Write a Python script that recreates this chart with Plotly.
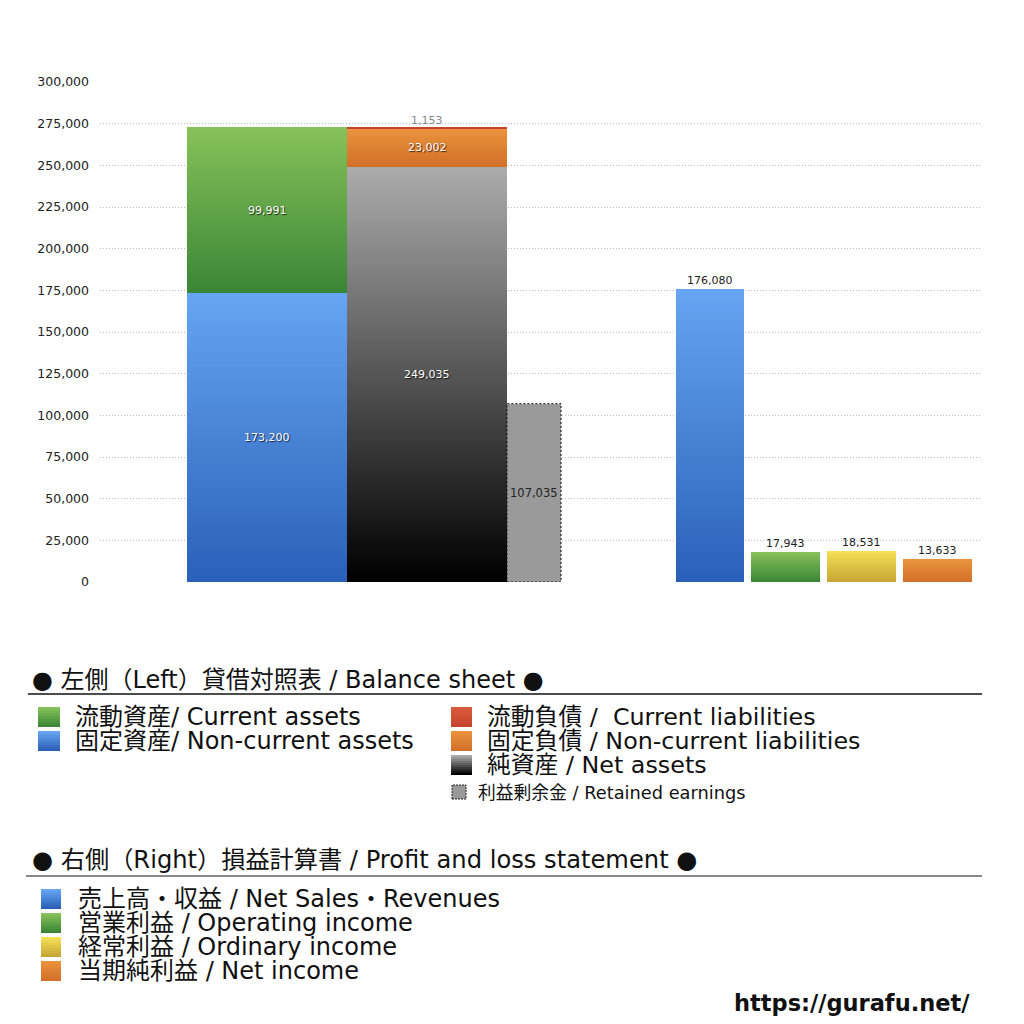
import plotly.graph_objects as go

# 左側: 貸借対照表 / Balance sheet
asset_labels = ["固定資産", "流動資産"]
asset_values = [173200, 99991]
liab_labels = ["純資産", "固定負債", "流動負債"]
liab_values = [249035, 23002, 1153]
retained_label = "利益剰余金"
retained_value = 107035

# 右側: 損益計算書 / Profit and loss statement
pl_labels = ["売上高・収益", "営業利益", "経常利益", "当期純利益"]
pl_values = [176080, 17943, 18531, 13633]

y_ticks = list(range(0, 300001, 25000))

FONT = "DejaVu Sans, Noto Sans CJK JP"

# x軸は描画幅を 0-88 の単位で扱う
ASSET_X, LIAB_X, BS_W = 16.7, 32.7, 16.0
RE_X, RE_W = 43.4, 5.4
PL_X = [61.0, 68.55, 76.15, 83.75]
PL_W = 6.85

# (下側の色, 上側の色)
BLUE = ("#2b60b8", "#65a5f2")
GREEN = ("#3a8636", "#87c15a")
BLACK = ("#000000", "#ababab")
ORANGE = ("#d2702a", "#ea933c")
RED = ("#c6452c", "#d85a3c")
YELLOW = ("#c6a534", "#f5e056")
GRAY = "#9a9a9a"


def mix(c0, c1, t):
    a = [int(c0[i:i + 2], 16) for i in (1, 3, 5)]
    b = [int(c1[i:i + 2], 16) for i in (1, 3, 5)]
    return "rgb(%d,%d,%d)" % tuple(round(a[k] + (b[k] - a[k]) * t) for k in range(3))


def gradient_bar(fig, x, width, base, value, colors, n=90):
    # 下から順に重ねてグラデーションに見せる
    xs, ys, bases, cols = [], [], [], []
    for i in range(n):
        xs.append(x)
        bases.append(base + value * i / n)
        ys.append(value * (n - i) / n)
        cols.append(mix(colors[0], colors[1], i / max(n - 1, 1)))
    fig.add_trace(go.Bar(x=xs, y=ys, base=bases, width=width,
                         marker=dict(color=cols, line=dict(width=0)),
                         hoverinfo="skip", showlegend=False))


def px_x(p):
    return (p - 100) / 880


def px_y(p):
    return (582 - p) / 500


fig = go.Figure()
annotations = []
shapes = []


def value_label(x, y, v, color="#ffffff", size=11, yanchor="middle", shadow="none"):
    annotations.append(dict(x=x, y=y, xref="x", yref="y", text=f"{v:,}",
                            showarrow=False, yanchor=yanchor,
                            font=dict(family=FONT, size=size, color=color, shadow=shadow)))


WHITE_SHADOW = "1px 1px 1px rgba(0,0,0,0.7)"

# 資産
base = 0
for v, c in zip(asset_values, [BLUE, GREEN]):
    gradient_bar(fig, ASSET_X, BS_W, base, v, c)
    value_label(ASSET_X, base + v / 2, v, shadow=WHITE_SHADOW)
    base += v

# 負債・純資産
base = 0
for v, c in zip(liab_values, [BLACK, ORANGE, RED]):
    gradient_bar(fig, LIAB_X, BS_W, base, v, c, n=90 if v > 5000 else 1)
    base += v
value_label(LIAB_X, liab_values[0] / 2, liab_values[0], shadow=WHITE_SHADOW)
value_label(LIAB_X, liab_values[0] + liab_values[1] / 2, liab_values[1], shadow=WHITE_SHADOW)
value_label(LIAB_X, base - 1500, liab_values[2], color="#888888", yanchor="bottom")

# 利益剰余金
fig.add_trace(go.Bar(x=[RE_X], y=[retained_value], width=RE_W,
                     marker=dict(color=GRAY, line=dict(width=0)),
                     hoverinfo="skip", showlegend=False))
shapes.append(dict(type="rect", xref="x", yref="y",
                   x0=RE_X - RE_W / 2, x1=RE_X + RE_W / 2, y0=0, y1=retained_value,
                   line=dict(color="#111111", width=1, dash="2px,2px")))
value_label(RE_X, retained_value / 2, retained_value, color="#222222", size=11.5)

# 損益計算書
for x, v, c in zip(PL_X, pl_values, [BLUE, GREEN, YELLOW, ORANGE]):
    gradient_bar(fig, x, PL_W, 0, v, c)
    value_label(x, v, v, color="#222222", yanchor="bottom")


# 凡例
def swatch(x0, y0, x1, y1, colors, n=10):
    # 上から順に重ねる(継ぎ目が出ないよう下端まで伸ばす)
    for i in range(n):
        shapes.append(dict(type="rect", xref="paper", yref="paper",
                           x0=px_x(x0), x1=px_x(x1),
                           y0=px_y(y1), y1=px_y(y0 + (y1 - y0) * i / n),
                           fillcolor=mix(colors[1], colors[0], i / (n - 1)),
                           line=dict(width=0)))


def text(x, y, s, size, color="#111111", xanchor="left", bold=False):
    if bold:
        s = "<b>" + s + "</b>"
    annotations.append(dict(x=px_x(x), y=px_y(y), xref="paper", yref="paper",
                            text=s, showarrow=False, xanchor=xanchor, yanchor="middle",
                            font=dict(family=FONT, size=size, color=color)))


text(30, 680, "● 左側（Left）貸借対照表 / Balance sheet ●", 24)
shapes.append(dict(type="line", xref="paper", yref="paper",
                   x0=px_x(28), x1=px_x(982), y0=px_y(694), y1=px_y(694),
                   line=dict(color="#111111", width=1.5)))

swatch(38, 707, 60, 727, GREEN)
text(73, 717, "流動資産/ Current assets", 24)
swatch(38, 731, 60, 751, BLUE)
text(73, 741, "固定資産/ Non-current assets", 24)

swatch(451, 707, 472, 727, RED)
text(485, 717, "流動負債 /  Current liabilities", 23.8)
swatch(451, 731, 472, 751, ORANGE)
text(485, 741, "固定負債 / Non-current liabilities", 23.8)
swatch(451, 755, 472, 775, BLACK)
text(485, 765, "純資産 / Net assets", 23.8)
shapes.append(dict(type="rect", xref="paper", yref="paper",
                   x0=px_x(452), x1=px_x(466), y0=px_y(799), y1=px_y(785),
                   fillcolor=GRAY, line=dict(color="#222222", width=1, dash="2px,1px")))
text(476, 792, "利益剰余金 / Retained earnings", 17.8)

text(30, 860, "● 右側（Right）損益計算書 / Profit and loss statement ●", 24.2)
shapes.append(dict(type="line", xref="paper", yref="paper",
                   x0=px_x(26), x1=px_x(982), y0=px_y(876), y1=px_y(876),
                   line=dict(color="#888888", width=2)))

for i, (lab, c) in enumerate(zip(
        ["売上高・収益 / Net Sales・Revenues", "営業利益 / Operating income",
         "経常利益 / Ordinary income", "当期純利益 / Net income"],
        [BLUE, GREEN, YELLOW, ORANGE])):
    yc = 899 + 24 * i
    swatch(41, yc - 10, 61, yc + 10, c)
    text(76, yc, lab, 24)

text(972, 1003, "https://gurafu.net/", 22.5, xanchor="right", bold=True)

fig.update_layout(
    width=1024, height=1024,
    margin=dict(l=92, r=52, t=74, b=450),
    paper_bgcolor="white", plot_bgcolor="white",
    barmode="overlay", bargap=0,
    showlegend=False,
    xaxis=dict(range=[0, 88], visible=False, fixedrange=True),
    yaxis=dict(range=[0, 300000], tickvals=y_ticks, tickformat=",",
               showgrid=True, gridcolor="#bdbdbd", griddash="1px,2px", gridwidth=1,
               zeroline=False, showline=False, ticks="",
               ticklabelstandoff=10,
               tickfont=dict(family=FONT, size=12.5, color="#222222")),
    annotations=annotations,
    shapes=shapes,
    font=dict(family=FONT),
)

fig.write_html("out.html")
